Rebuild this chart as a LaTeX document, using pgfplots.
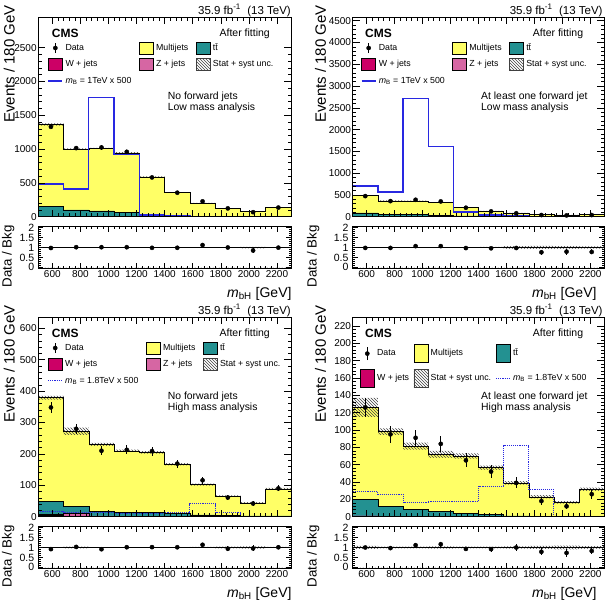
\documentclass[border=0pt]{standalone}
\usepackage{fontspec}
\setmainfont{Liberation Sans}
\usepackage{pgfplots}
\usepackage{pgfplotstable}
\pgfplotsset{compat=1.18}
\usetikzlibrary{patterns}

\definecolor{qcd}{RGB}{255,255,102}
\definecolor{ttb}{RGB}{35,145,145}
\definecolor{wjet}{RGB}{204,0,102}
\definecolor{zjet}{RGB}{214,102,163}
\definecolor{sigblue}{RGB}{40,40,225}

\newcommand\fs[1]{\fontsize{#1}{#1}\selectfont}
\tikzset{lbl/.style={inner sep=0pt}}

% Bin tables: lower bin edge, cumulative W, W+Z, W+Z+ttbar, total background,
% its uncertainty, signal (x500). Last row repeats the last bin to close at 2300.
\pgfplotstableread{
lo   w    wz   wzt  tot   unc  sig
500  6    10   148  1364  15   483
680  5    8    100  1000  10   409
860  4    6    85   1010  10   1764
1040 3    5    64   946   10   921
1220 2    3    28   591   7    25
1400 1.2  2    17   360   5    20
1580 0.8  1.2  10   202   4    5
1760 0.5  0.8  6    123   3    3
1940 0.4  0.6  4    79    3    2
2120 0.4  0.6  4    136   3    2
2300 0.4  0.6  4    136   3    2
}\binsA
\pgfplotstableread{
c    n     b
590  1330  1364
770  1015  1000
950  1025  1010
1130 960   946
1310 581   591
1490 355   360
1670 227   202
1850 123   123
2030 67    79
2210 135   136
}\dataA

\pgfplotstableread{
lo   w    wz   wzt  tot   unc  sig
500  5    8    90   483   10   702
680  4    6    60   366   7    564
860  3    5    45   364   7    2723
1040 3    4    38   328   6    1617
1220 2    3    20   212   5    107
1400 1    2    10   127   4    38
1580 1    1.5  6    80    6    15
1760 0.5  1    4    50    4    10
1940 0.5  0.8  3    38    2.5  8
2120 0.5  0.8  3    49    3    8
2300 0.5  0.8  3    49    3    8
}\binsB
\pgfplotstableread{
c    n    b
590  473  483
770  358  366
950  389  364
1130 351  328
1310 206  212
1490 122  127
1670 78   80
1850 38   50
2030 30   38
2210 38   49
}\dataB

\pgfplotstableread{
lo   w    wz   wzt  tot   unc  sig
500  4    8    48   379   6    15
680  3    12   33   272   12   13
860  1.5  3    18   230   5    14
1040 1    2    14   210   4    10
1220 1    2    14   205   4    10
1400 0.8  1.5  10   167   3.5  13
1580 0.5  1    6    102   3    42
1760 0.3  0.6  4    65    3    13
1940 0.2  0.4  3    44    2.5  1
2120 0.2  0.4  3    89    3    1
2300 0.2  0.4  3    89    3    1
}\binsC
\pgfplotstableread{
c    n    b
590  348  379
770  280  272
950  210  230
1130 213  210
1310 209  205
1490 169  167
1670 116  102
1850 61   65
2030 42   44
2210 90   89
}\dataC

\pgfplotstableread{
lo   w    wz   wzt   tot   unc  sig
500  1    1    20    126   11   29
680  0.8  0.8  12.3  98    4    26
860  0.6  0.6  8.5   81.5  4    16
1040 0.5  0.5  6.5   72    4    17.5
1220 0.4  0.4  4     70    3    17.5
1400 0.3  0.3  2.3   56.5  2.5  35
1580 0.2  0.2  1     39    2    82
1760 0.1  0.1  0.5   23    2    31.5
1940 0.1  0.1  0.5   16.5  1.5  0.5
2120 0.1  0.1  0.5   31.5  2    0.5
2300 0.1  0.1  0.5   31.5  2    0.5
}\binsD
\pgfplotstableread{
c    n    b
590  126  126
770  95   98
950  91   81.5
1130 84   72
1310 65   70
1490 52   56.5
1670 39   39
1850 18   23
2030 12   16.5
2210 26   31.5
}\dataD

\pgfplotsset{
  common/.style={
    scale only axis, anchor=north west, axis on top,
    xmin=500, xmax=2300,
    xtick={600,800,...,2200}, minor x tick num=4,
    tick align=inside,
    axis line style={line width=0.9pt},
    every tick/.style={black, line width=0.6pt},
    tick label style={font=\fs{10}},
    /pgf/number format/assume math mode=true,
    /pgf/number format/1000 sep={},
    scaled ticks=false,
  },
  mainax/.style={
    common, height=199.4pt, ymin=0,
    xticklabel=\empty, minor y tick num=4,
    major tick length=7pt, minor tick length=3.5pt,
    yticklabel style={inner xsep=1.5pt},
    legend columns=3, legend cell align=left,
    legend style={at={(0,1)}, anchor=north west, draw=none, fill=none,
      inner sep=0pt, outer sep=0pt, row sep=4pt, font=\fs{8.8},
      nodes={inner xsep=2.5pt, inner ysep=0pt, text height=6.5pt, text depth=1.8pt},
      /tikz/every even column/.append style={column sep=5pt}},
  },
  ratioax/.style={
    common, height=41.6pt, ymin=-0.05, ymax=2.05,
    ytick={0,0.5,1,1.5,2}, minor y tick num=4,
    major tick length=5pt, minor tick length=2.5pt,
    yticklabel style={inner xsep=4pt, font=\fs{10.5}},
    xticklabel style={inner ysep=2pt},
  },
  % legend symbols
  legdata/.style 2 args={legend image code/.code={
    \path[draw=none, fill=none] (0pt,-#1) rectangle (14pt,#1);
    \draw[black, line width=0.8pt] (7pt,-#2) -- (7pt,#2);
    \fill[black] (7pt,0pt) circle (2.1pt);}},
  legbox/.style 2 args={legend image code/.code={
    \draw[fill=#1, draw=black, line width=0.6pt] (0pt,-#2) rectangle (14pt,#2);}},
  leghatch/.style={legend image code/.code={
    \draw[pattern=north west lines, pattern color=black!75, draw=black!75, line width=0.6pt]
      (0pt,-#1) rectangle (14pt,#1);}},
  legsig/.style 2 args={legend image code/.code={
    \path[draw=none, fill=none] (0pt,-#2) rectangle (14pt,#2);
    \draw[sigblue, #1] (0pt,0pt) -- (14pt,0pt);}},
  sigsolid/.style={sigblue, line width=1.3pt},
  sigdot/.style={sigblue, line width=1pt, dash pattern=on 1.1pt off 1pt},
}

% stacked backgrounds with the hatched uncertainty band of one panel:
% hatch from 0 to tot+unc, then the multijet fill again up to tot-unc,
% the small backgrounds on top, and the outline of the total
\newcommand\stackhists[1]{%
  \addplot[const plot, fill=qcd, draw=none, forget plot] table[x=lo,y=tot]{#1} \closedcycle;
  \addplot[const plot, pattern=north west lines, pattern color=black!75, draw=none, forget plot]
    table[x=lo,y expr=\thisrow{tot}+\thisrow{unc}]{#1} \closedcycle;
  \addplot[const plot, fill=qcd, draw=none, forget plot]
    table[x=lo,y expr=\thisrow{tot}-\thisrow{unc}]{#1} \closedcycle;
  \addplot[const plot, fill=ttb, draw=black, line width=0.5pt, forget plot] table[x=lo,y=wzt]{#1} \closedcycle;
  \addplot[const plot, fill=zjet, draw=black, line width=0.4pt, forget plot] table[x=lo,y=wz]{#1} \closedcycle;
  \addplot[const plot, fill=wjet, draw=black, line width=0.4pt, forget plot] table[x=lo,y=w]{#1} \closedcycle;
  \addplot[const plot, draw=black, line width=0.5pt, forget plot] table[x=lo,y=tot]{#1};
}
\newcommand\datapts[1]{%
  \addplot[only marks, mark=*, mark size=2.1pt, black, forget plot,
    error bars/.cd, y dir=both, y explicit, error mark=none,
    error bar style={line width=0.8pt, black}]
    table[x=c, y=n, y error expr={sqrt(\thisrow{n})}]{#1};
}
\newcommand\ratiopts[2]{%
  \addplot[const plot, pattern=north west lines, pattern color=black!75, draw=none, forget plot]
    table[x=lo,y expr=1+\thisrow{unc}/\thisrow{tot}]{#1} \closedcycle;
  \addplot[const plot, fill=white, draw=none, forget plot]
    table[x=lo,y expr=1-\thisrow{unc}/\thisrow{tot}]{#1} \closedcycle;
  \addplot[black, line width=0.8pt, forget plot] coordinates {(500,1) (2300,1)};
  \addplot[only marks, mark=*, mark size=2.1pt, black, forget plot,
    error bars/.cd, y dir=both, y explicit, error mark=none,
    error bar style={line width=0.8pt, black}]
    table[x=c, y expr=\thisrow{n}/\thisrow{b}, y error expr={sqrt(\thisrow{n})/\thisrow{b}}]{#2};
}

\begin{document}
\begin{tikzpicture}
\useasboundingbox (0,0) rectangle (611pt,-600pt);

% ---------------- no forward jets, low mass
\begin{axis}[mainax, at={(38.3pt,-17.3pt)}, width=252.7pt, ymax=2950,
  ytick={0,500,...,2500}, legend style={xshift=9.4pt, yshift=-24.4pt}]
\stackhists{\binsA}
\addplot[const plot, sigsolid, forget plot] table[x=lo,y=sig]{\binsA};
\datapts{\dataA}
\addlegendimage{legdata={6pt}{5pt}}\addlegendentry{Data}
\addlegendimage{legbox={qcd}{6pt}}\addlegendentry{Multijets}
\addlegendimage{legbox={ttb}{6pt}}\addlegendentry{t\={t}}
\addlegendimage{legbox={wjet}{6pt}}\addlegendentry{W + jets}
\addlegendimage{legbox={zjet}{6pt}}\addlegendentry{Z + jets}
\addlegendimage{leghatch=6pt}\addlegendentry{Stat + syst unc.}
\addlegendimage{legsig={line width=1.3pt}{6pt}}\addlegendentry{\textit{m}\textsubscript{B} = 1TeV x 500}
\end{axis}
\begin{axis}[ratioax, at={(38.3pt,-226.7pt)}, width=252.7pt]
\ratiopts{\binsA}{\dataA}
\end{axis}

% ---------------- at least one forward jet, low mass
\begin{axis}[mainax, at={(352.7pt,-17.3pt)}, width=251.6pt, ymax=4580,
  ytick={0,500,...,4500}, legend style={xshift=8.3pt, yshift=-24.4pt}]
\stackhists{\binsB}
\addplot[const plot, sigsolid, forget plot] table[x=lo,y=sig]{\binsB};
\datapts{\dataB}
\addlegendimage{legdata={6pt}{5pt}}\addlegendentry{Data}
\addlegendimage{legbox={qcd}{6pt}}\addlegendentry{Multijets}
\addlegendimage{legbox={ttb}{6pt}}\addlegendentry{t\={t}}
\addlegendimage{legbox={wjet}{6pt}}\addlegendentry{W + jets}
\addlegendimage{legbox={zjet}{6pt}}\addlegendentry{Z + jets}
\addlegendimage{leghatch=6pt}\addlegendentry{Stat + syst unc.}
\addlegendimage{legsig={line width=1.3pt}{6pt}}\addlegendentry{\textit{m}\textsubscript{B} = 1TeV x 500}
\end{axis}
\begin{axis}[ratioax, at={(352.7pt,-226.7pt)}, width=251.6pt]
\ratiopts{\binsB}{\dataB}
\end{axis}

% ---------------- no forward jets, high mass
\begin{axis}[mainax, at={(38.3pt,-317.3pt)}, width=252.7pt, ymax=635,
  ytick={0,100,...,600}, legend style={xshift=9.4pt, yshift=-24.4pt}]
\stackhists{\binsC}
\addplot[const plot, sigdot, forget plot] table[x=lo,y=sig]{\binsC};
\datapts{\dataC}
\addlegendimage{legdata={6pt}{5pt}}\addlegendentry{Data}
\addlegendimage{legbox={qcd}{6pt}}\addlegendentry{Multijets}
\addlegendimage{legbox={ttb}{6pt}}\addlegendentry{t\={t}}
\addlegendimage{legbox={wjet}{6pt}}\addlegendentry{W + jets}
\addlegendimage{legbox={zjet}{6pt}}\addlegendentry{Z + jets}
\addlegendimage{leghatch=6pt}\addlegendentry{Stat + syst unc.}
\addlegendimage{legsig={line width=1pt, dash pattern=on 1.1pt off 1pt}{6pt}}\addlegendentry{\textit{m}\textsubscript{B} = 1.8TeV x 500}
\end{axis}
\begin{axis}[ratioax, at={(38.3pt,-526.7pt)}, width=252.7pt]
\ratiopts{\binsC}{\dataC}
\end{axis}

% ---------------- at least one forward jet, high mass
\begin{axis}[mainax, at={(352.7pt,-317.3pt)}, width=251.6pt, ymax=230,
  ytick={0,20,...,220},
  legend style={xshift=7.3pt, yshift=-27pt, row sep=6pt,
    /tikz/every even column/.append style={column sep=2pt}}]
\stackhists{\binsD}
\addplot[const plot, sigdot, forget plot] table[x=lo,y=sig]{\binsD};
\datapts{\dataD}
\addlegendimage{legdata={9pt}{6.5pt}}\addlegendentry{Data}
\addlegendimage{legbox={qcd}{9pt}}\addlegendentry{Multijets}
\addlegendimage{legbox={ttb}{9pt}}\addlegendentry{t\={t}}
\addlegendimage{legbox={wjet}{9pt}}\addlegendentry{W + jets}
\addlegendimage{leghatch=9pt}\addlegendentry{Stat + syst unc.}
\addlegendimage{legsig={line width=1pt, dash pattern=on 1.1pt off 1pt}{9pt}}\addlegendentry{\textit{m}\textsubscript{B} = 1.8TeV x 500}
\end{axis}
\begin{axis}[ratioax, at={(352.7pt,-526.7pt)}, width=251.6pt]
\ratiopts{\binsD}{\dataD}
\end{axis}

% ---------------- panel texts
\foreach \dy/\lx/\cx/\ax/\tx/\ex/\rx/\xr/\la/\lb in {
  0/291/51.7/270/167.7/9.2/8.3/291.7/No forward jets/Low mass analysis,
  0/602.7/365/583.3/481/320.5/313.3/596.7/At least one forward jet/Low mass analysis,
  300/291/51.7/270/167.7/9.2/8.3/291.7/No forward jets/High mass analysis,
  300/602.7/365/583.3/481/320.5/313.3/596.7/At least one forward jet/High mass analysis}{
  \node[lbl, anchor=base east, font=\fs{11.5}] at (\lx pt,-14.3pt-\dy pt) {35.9 fb\textsuperscript{-1}\ \ (13 TeV)};
  \node[lbl, anchor=west, font=\bfseries\fs{12}] at (\cx pt,-33.3pt-\dy pt) {CMS};
  \node[lbl, anchor=east, font=\fs{10.5}] at (\ax pt,-33.3pt-\dy pt) {After fitting};
  \node[lbl, anchor=base west, font=\fs{10.4}] at (\tx pt,-99.5pt-\dy pt) {\la};
  \node[lbl, anchor=base west, font=\fs{10.4}] at (\tx pt,-110.5pt-\dy pt) {\lb};
  \node[lbl, rotate=90, anchor=east, font=\fs{15}] at (\ex pt,-5pt-\dy pt) {Events / 180 GeV};
  \node[lbl, rotate=90, anchor=east, font=\fs{13.3}] at (\rx pt,-225pt-\dy pt) {Data / Bkg};
  \node[lbl, anchor=base east, font=\fs{14}] at (\xr pt,-297pt-\dy pt) {\textit{m}\textsubscript{bH} [GeV]};
}
\end{tikzpicture}
\end{document}
